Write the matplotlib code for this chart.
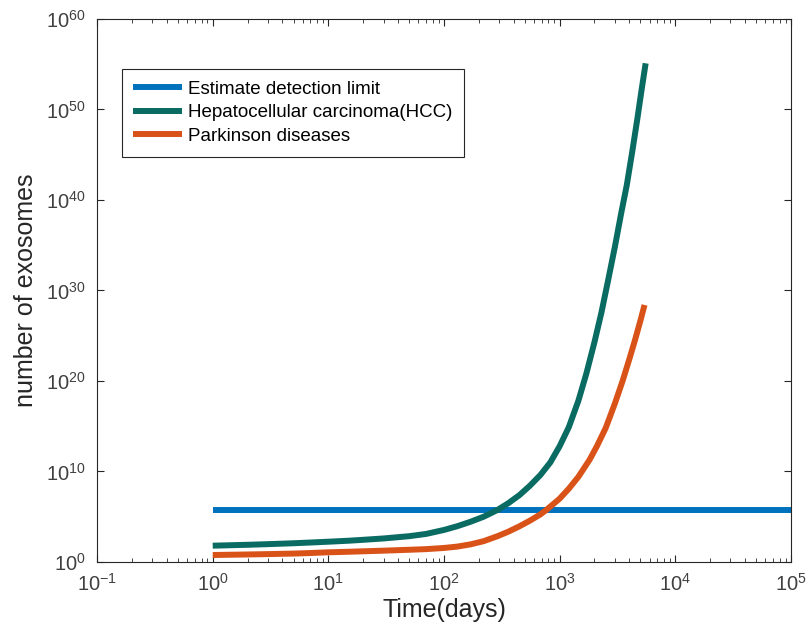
import numpy as np
import matplotlib
matplotlib.use("Agg")
import matplotlib.pyplot as plt
from matplotlib.ticker import LogLocator, NullFormatter, FixedLocator

plt.rcParams['font.family'] = ['Liberation Sans', 'DejaVu Sans']
plt.rcParams['mathtext.fontset'] = 'custom'
plt.rcParams['mathtext.rm'] = 'Liberation Sans'
plt.rcParams['mathtext.it'] = 'Liberation Sans'
plt.rcParams['mathtext.bf'] = 'Liberation Sans'

# Data (time in days, log10 of number of exosomes)
detect_t = [1, 1e5]
detect_log = [5.75, 5.75]

hcc_t = [1, 2, 3, 5, 7, 10, 15, 20, 30, 50, 70, 100, 130, 170, 220, 290, 360, 450, 550,
         680, 830, 1000, 1200, 1450, 1700, 2000, 2300, 2612, 3000, 3400, 3800, 4250,
         4700, 5100, 5540]
hcc_log = [1.80, 1.90, 1.97, 2.07, 2.15, 2.24, 2.35, 2.45, 2.60, 2.85, 3.10, 3.54, 3.95,
           4.45, 5.00, 5.75, 6.50, 7.40, 8.40, 9.60, 11.0, 12.8, 14.9, 17.8, 20.8, 24.3,
           27.6, 31.0, 34.8, 38.5, 41.6, 45.4, 49.0, 52.1, 55.1]

pd_t = [1, 2, 3, 5, 7, 10, 15, 20, 30, 50, 70, 100, 130, 170, 220, 290, 360, 450, 550,
        680, 766, 900, 1000, 1200, 1450, 1815, 2100, 2500, 3000, 3520, 4000, 4500, 5000, 5420]
pd_log = [0.77, 0.83, 0.87, 0.93, 0.99, 1.07, 1.13, 1.18, 1.25, 1.35, 1.42, 1.55, 1.70,
          1.95, 2.30, 2.85, 3.35, 3.95, 4.55, 5.25, 5.75, 6.50, 7.00, 8.10, 9.40, 11.3,
          12.8, 14.8, 17.5, 20.1, 22.4, 24.6, 26.7, 28.4]

labels = ["Estimate detection limit", "Hepatocellular carcinoma(HCC)", "Parkinson diseases"]
colors = ["#0072BD", "#0a6b63", "#D95319"]

fig = plt.figure(figsize=(8.09, 6.43), dpi=100)
ax = fig.add_axes([0.12, 0.126, 0.8577, 0.8445])

ax.plot(detect_t, 10.0 ** np.array(detect_log), color=colors[0], lw=4.3, label=labels[0],
        solid_capstyle='butt')
ax.plot(hcc_t, 10.0 ** np.array(hcc_log), color=colors[1], lw=4.3, label=labels[1],
        solid_capstyle='butt', solid_joinstyle='round')
ax.plot(pd_t, 10.0 ** np.array(pd_log), color=colors[2], lw=4.3, label=labels[2],
        solid_capstyle='butt', solid_joinstyle='round')

ax.set_xscale('log')
ax.set_yscale('log')
ax.set_xlim(1e-1, 1e5)
ax.set_ylim(1e0, 1e60)

ax.xaxis.set_major_locator(LogLocator(base=10, numticks=20))
ax.xaxis.set_minor_locator(LogLocator(base=10, subs=np.arange(2, 10), numticks=100))
ax.xaxis.set_minor_formatter(NullFormatter())
ax.yaxis.set_major_locator(FixedLocator([10.0 ** k for k in range(0, 61, 10)]))
ax.yaxis.set_minor_locator(FixedLocator([]))

for s in ax.spines.values():
    s.set_color('#262626')
    s.set_linewidth(0.8)
ax.tick_params(which='both', direction='in', top=True, right=True, colors='#262626',
               labelcolor='#404040')
ax.tick_params(which='major', length=5, labelsize=14.5, pad=8)
ax.tick_params(which='minor', length=3)

ax.set_xlabel("Time(days)", fontsize=18, color='#262626', labelpad=2)
ax.set_ylabel("number of exosomes", fontsize=18, color='#262626', labelpad=6)

leg = ax.legend(loc='upper left', bbox_to_anchor=(0.0356, 0.908), borderaxespad=0,
                fontsize=13.5, handlelength=2.6, frameon=True, fancybox=False,
                edgecolor='#262626', framealpha=1, borderpad=0.62, labelspacing=0.35,
                handletextpad=0.3)
leg.get_frame().set_linewidth(0.8)

fig.savefig("out.png", dpi=100)
